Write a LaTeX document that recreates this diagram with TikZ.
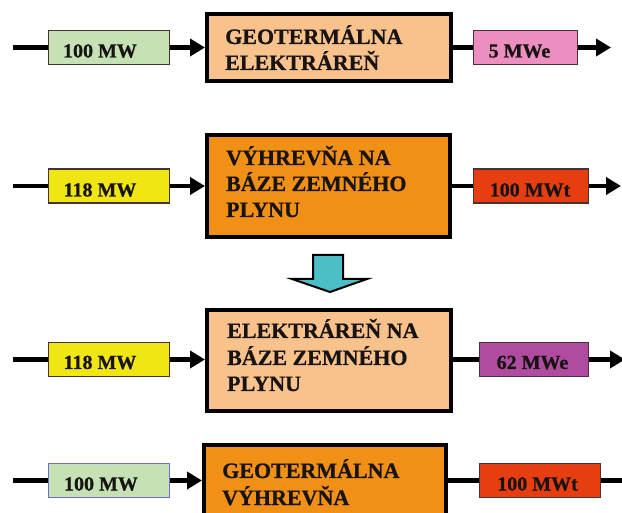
\documentclass[tikz,border=0pt]{standalone}
\usepackage{fontspec}
\setmainfont{Liberation Serif}
\newfontfamily\heavyserif{Liberation Serif Bold}[FakeBold=0.8]
\usetikzlibrary{arrows.meta}
\definecolor{lgreen}{RGB}{198,226,180}
\definecolor{lorange}{RGB}{248,194,140}
\definecolor{dorange}{RGB}{240,144,22}
\definecolor{pinkv}{RGB}{236,143,192}
\definecolor{yellowv}{RGB}{240,230,20}
\definecolor{redv}{RGB}{230,62,16}
\definecolor{purplev}{RGB}{176,76,160}
\definecolor{cyanv}{RGB}{75,190,200}
\definecolor{boxedge}{RGB}{70,50,50}
\definecolor{blueedge}{RGB}{110,110,210}
\definecolor{ink}{RGB}{25,20,20}
\begin{document}
\begin{tikzpicture}[x=1pt,y=-1pt,
  mainbox/.style={draw=black,line width=4pt,inner sep=0pt,rectangle},
  valbox/.style={draw=boxedge,line width=1.3pt,inner sep=0pt,rectangle,minimum height=34pt},
  flow/.style={line width=4.5pt,draw=black},
  flowarr/.style={flow,-{Triangle[length=15pt,width=17pt]}},
  mtext/.style={font=\heavyserif\fontsize{22}{26}\selectfont,anchor=base west,inner sep=0pt,text=ink},
  vtext/.style={font=\heavyserif\fontsize{20}{24}\selectfont,anchor=base,inner sep=0pt,text=ink}]
\useasboundingbox (0,0) rectangle (622,513);
\fill[white] (0,0) rectangle (622,513);
\clip (0,0) rectangle (622,513);

% ---------- row 1 ----------
\coordinate (s1) at (13,47.5);
\coordinate (e1) at (611,47.5);
\node[valbox,fill=lgreen,minimum width=121pt] (in1) at (109,47.5) {};
\node[mainbox,fill=lorange,minimum width=244pt,minimum height=67pt] (m1) at (329,47.5) {};
\node[valbox,fill=pinkv,minimum width=104pt] (o1) at (525.5,47.5) {};
\draw[flow] (s1) -- (in1.west);
\draw[flowarr] (in1.east) -- (m1.west);
\draw[flow] (m1.east) -- (o1.west);
\draw[flowarr] (o1.east) -- (e1);
\node[vtext] (ti1) at (100,57.5) {100 MW};
\node[vtext] (to1) at (519.5,57.5) {5 MWe};
\node[mtext] (t1a) at (225,44) {GEOTERMÁLNA};
\node[mtext] (t1b) at (225,70) {ELEKTRÁREŇ};

% ---------- row 2 ----------
\coordinate (s2) at (13,186);
\coordinate (e2) at (621,186);
\node[valbox,fill=yellowv,minimum width=121pt] (in2) at (109,186) {};
\node[mainbox,fill=dorange,minimum width=243pt,minimum height=102pt] (m2) at (328.5,186) {};
\node[valbox,fill=redv,minimum width=115pt] (o2) at (531,186) {};
\draw[flow] (s2) -- (in2.west);
\draw[flowarr] (in2.east) -- (m2.west);
\draw[flow] (m2.east) -- (o2.west);
\draw[flowarr] (o2.east) -- (e2);
\node[vtext] (ti2) at (100,196.5) {118 MW};
\node[vtext] (to2) at (530,196.5) {100 MWt};
\node[mtext] (t2a) at (226,165) {VÝHREVŇA NA};
\node[mtext] (t2b) at (226,191) {BÁZE ZEMNÉHO};
\node[mtext] (t2c) at (226,217) {PLYNU};

% ---------- cyan down arrow ----------
\filldraw[fill=cyanv,draw=black,line width=2pt,line join=miter]
  (313,255) -- (343,255) -- (343,279) -- (367,279) -- (330,292)
  -- (292,279) -- (313,279) -- cycle;

% ---------- row 3 ----------
\coordinate (s3) at (13,359.5);
\coordinate (e3) at (625,359.5);
\node[valbox,fill=yellowv,minimum width=121pt] (in3) at (109,359.5) {};
\node[mainbox,fill=lorange,minimum width=244pt,minimum height=101pt] (m3) at (329,360.5) {};
\node[valbox,fill=purplev,minimum width=109pt] (o3) at (534,359.5) {};
\draw[flow] (s3) -- (in3.west);
\draw[flowarr] (in3.east) -- (m3.west |- in3.east);
\draw[flow] (m3.east |- o3.west) -- (o3.west);
\draw[flowarr] (o3.east) -- (e3);
\node[vtext] (ti3) at (100,369) {118 MW};
\node[vtext] (to3) at (532.5,369) {62 MWe};
\node[mtext] (t3a) at (227,338) {ELEKTRÁREŇ NA};
\node[mtext] (t3b) at (227,365) {BÁZE ZEMNÉHO};
\node[mtext] (t3c) at (227,391) {PLYNU};

% ---------- row 4 ----------
\coordinate (s4) at (13,480.5);
\coordinate (e4) at (640,480.5);
\node[valbox,fill=lgreen,draw=blueedge,minimum width=121pt] (in4) at (109,480.5) {};
\node[mainbox,fill=dorange,minimum width=242pt,minimum height=90pt] (m4) at (325,490) {};
\node[valbox,fill=redv,minimum width=121pt] (o4) at (540,480.5) {};
\draw[flow] (s4) -- (in4.west);
\draw[flowarr] (in4.east) -- (m4.west |- in4.east);
\draw[flow] (m4.east |- o4.west) -- (o4.west);
\draw[flowarr] (o4.east) -- (e4);
\node[vtext] (ti4) at (101,490.5) {100 MW};
\node[vtext] (to4) at (537.5,490.5) {100 MWt};
\node[mtext] (t4a) at (222,478) {GEOTERMÁLNA};
\node[mtext] (t4b) at (222,505) {VÝHREVŇA};
\end{tikzpicture}
\end{document}
